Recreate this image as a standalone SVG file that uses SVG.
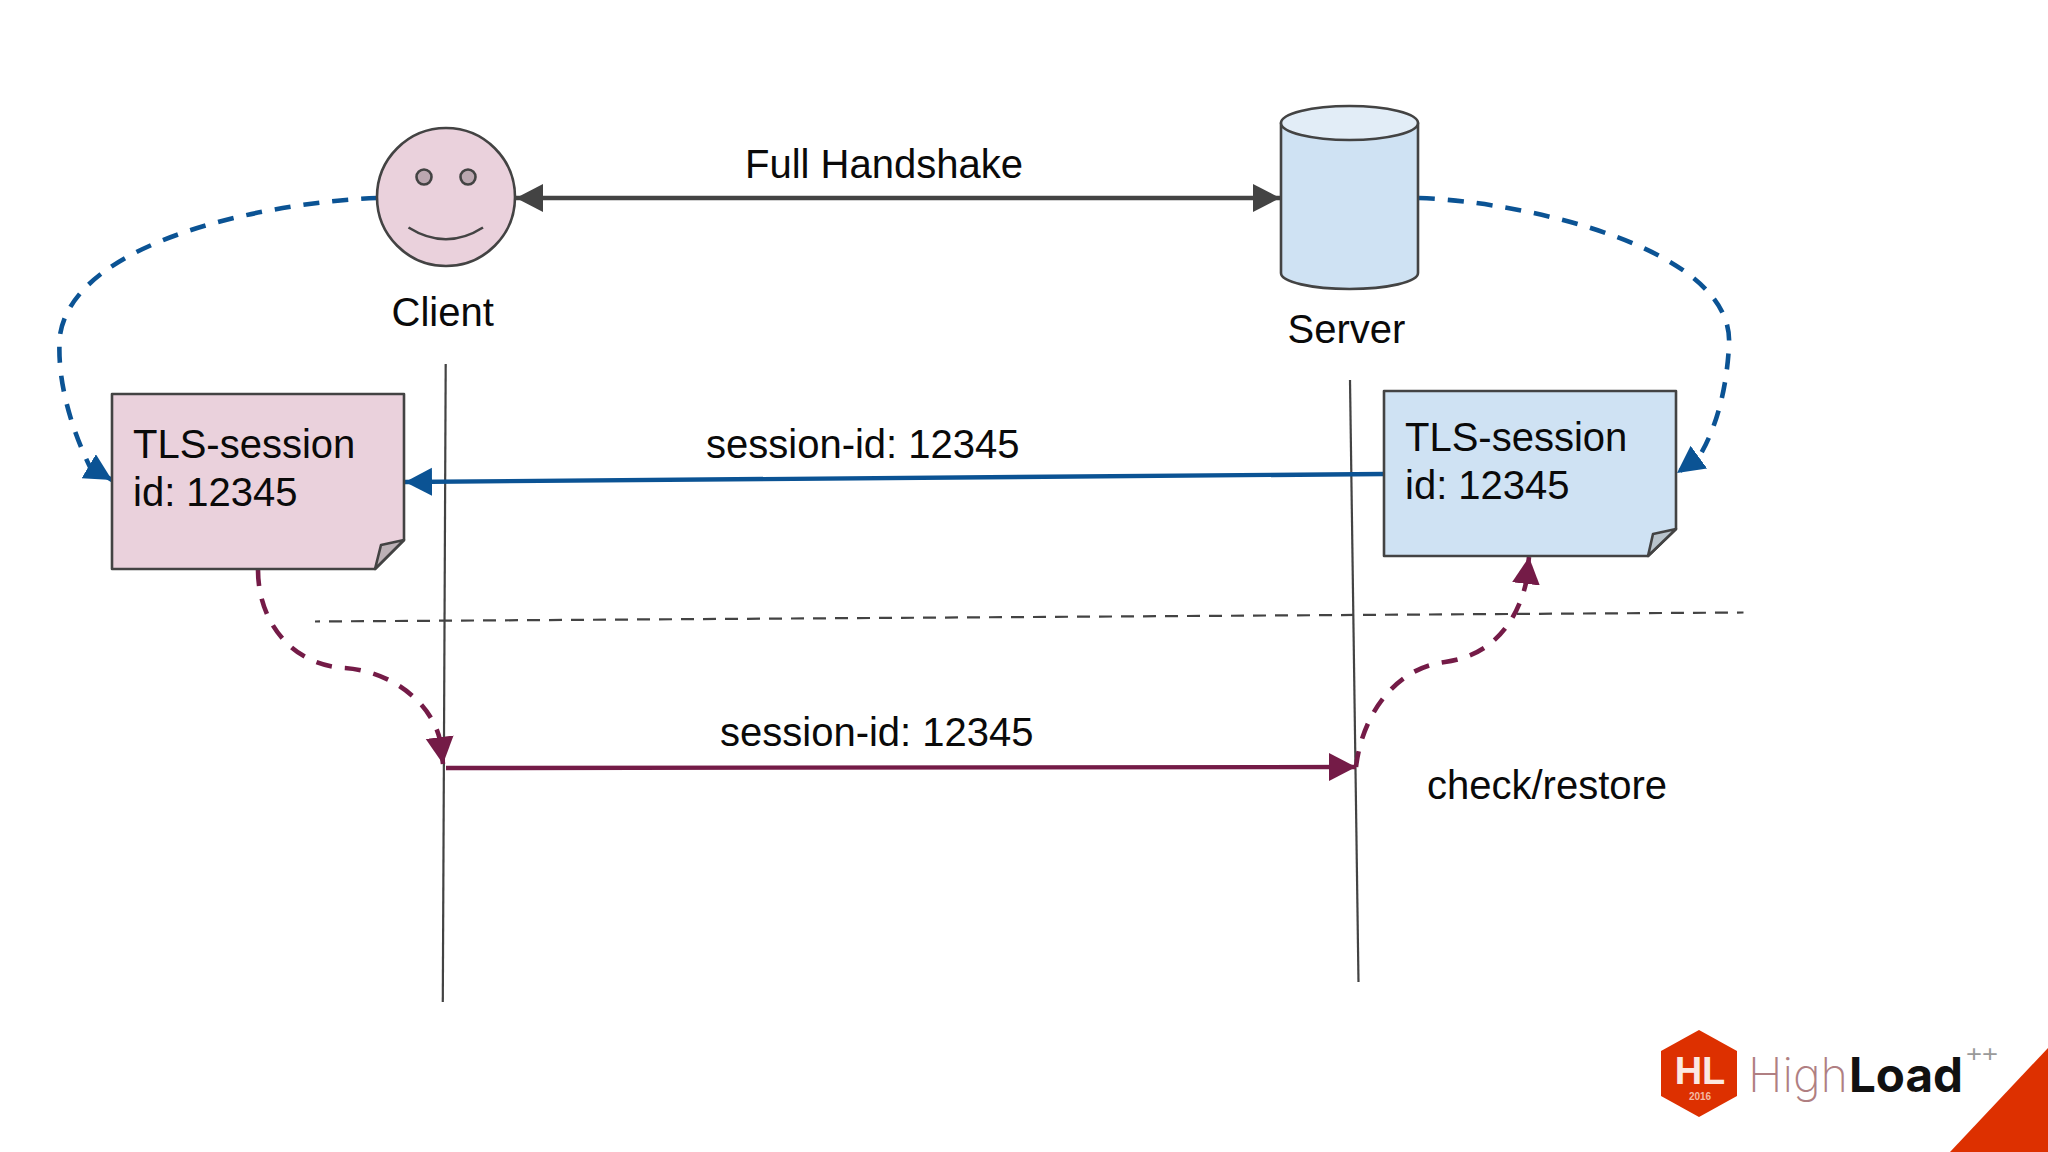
<svg xmlns="http://www.w3.org/2000/svg" width="2048" height="1152" viewBox="0 0 2048 1152">
<style>
text{font-family:"Liberation Sans",Arial,sans-serif;font-size:40px;fill:#0a0a0a}
.o{stroke:#434343;stroke-width:2.6;stroke-linejoin:round}
.ln{fill:none;stroke:#434343;stroke-width:2.2}
.bd{fill:none;stroke:#0b5394;stroke-width:4.6;stroke-dasharray:16 13;marker-end:url(#hb)}
.md{fill:none;stroke:#741b47;stroke-width:4.6;stroke-dasharray:16 13;marker-end:url(#hm)}
</style>
<defs>
<marker id="hb" markerUnits="userSpaceOnUse" markerWidth="30" markerHeight="32" refX="27" refY="14" orient="auto"><path d="M0 0L27 14L0 28Z" fill="#0b5394"/></marker>
<marker id="hm" markerUnits="userSpaceOnUse" markerWidth="30" markerHeight="32" refX="27" refY="14" orient="auto"><path d="M0 0L27 14L0 28Z" fill="#741b47"/></marker>
<marker id="hd" markerUnits="userSpaceOnUse" markerWidth="30" markerHeight="32" refX="27" refY="14" orient="auto-start-reverse"><path d="M0 0L27 14L0 28Z" fill="#434343"/></marker>
</defs>
<rect width="2048" height="1152" fill="#fff"/>
<g id="connectors">
<path class="ln" d="M445.700 364L442.800 1002"/>
<path class="ln" d="M1350 380L1358.500 982"/>
<path class="ln" stroke-dasharray="13 9" stroke-dashoffset="8" d="M315 621.500L1743.500 612.500"/>
<path d="M516 198H1280" fill="none" stroke="#434343" stroke-width="4.400" marker-start="url(#hd)" marker-end="url(#hd)"/>
<path d="M1384 474L405 482" fill="none" stroke="#0b5394" stroke-width="4.400" marker-end="url(#hb)"/>
<path d="M446 768L1356 767" fill="none" stroke="#741b47" stroke-width="4.400" marker-end="url(#hm)"/>
<path class="bd" d="M377 198C270 202 75 240 60 335C56 380 72 430 90 467L112 480"/>
<path class="bd" d="M1419 198C1530 202 1735 250 1729 345C1727 385 1718 425 1699 457L1677 473"/>
<path class="md" d="M258 570C258 620 290 665 345 668C395 672 432 705 440 740L443 764"/>
<path class="md" d="M1356 767C1362 715 1395 668 1445 662C1490 656 1516 625 1526 583L1529 557"/>
</g>
<g id="client">
<circle class="o" cx="446" cy="197" r="69" fill="#ead1dc"/>
<circle class="o" cx="424" cy="177" r="7.500" fill="#bba7b0"/>
<circle class="o" cx="468" cy="177" r="7.500" fill="#bba7b0"/>
<path class="o" fill="none" d="M408.500 227.500Q446 251 483 227.500"/>
<text x="391.500" y="326">Client</text>
</g>
<g id="server">
<path class="o" fill="#cfe2f3" d="M1281 123V273C1281 282 1312 289 1349.500 289C1387 289 1418 282 1418 273V123Z"/>
<ellipse class="o" cx="1349.500" cy="123" rx="68.500" ry="17" fill="#e2edf7"/>
<text x="1287.500" y="343">Server</text>
</g>
<g id="session-client">
<path class="o" fill="#ead1dc" d="M112 394H404V540L375 569H112Z"/>
<path class="o" fill="#bcb1b6" d="M404 540L381 545L375 569Z"/>
<text x="133" y="458">TLS-session</text>
<text x="133" y="506">id: 12345</text>
</g>
<g id="session-server">
<path class="o" fill="#cfe2f3" d="M1384 391H1676V529L1648 556H1384Z"/>
<path class="o" fill="#b9c4cc" d="M1676 529L1653 534L1648 556Z"/>
<text x="1405" y="451">TLS-session</text>
<text x="1405" y="499">id: 12345</text>
</g>
<g id="labels">
<text x="745" y="178">Full Handshake</text>
<text x="706" y="458">session-id: 12345</text>
<text x="720" y="746">session-id: 12345</text>
<text x="1427" y="799">check/restore</text>
</g>
<g id="logo">
<path d="M1699 1030L1737 1051V1096L1699 1117L1661 1096V1051Z" fill="#dd3000"/>
<text x="1700" y="1084" text-anchor="middle" style="font-size:38px;font-weight:700;fill:#fbe9e2">HL</text>
<text x="1700" y="1100" text-anchor="middle" style="font-size:10px;font-weight:700;fill:#f4b9a3">2016</text>
<text x="1748" y="1092" textLength="100" lengthAdjust="spacingAndGlyphs" style="font-family:Inter,sans-serif;font-size:48px;font-weight:200;fill:#b07f82">High</text>
<text x="1849" y="1092" textLength="114" lengthAdjust="spacingAndGlyphs" style="font-family:Inter,sans-serif;font-size:48px;font-weight:700;fill:#111">Load</text>
<text x="1966" y="1062" textLength="32" lengthAdjust="spacingAndGlyphs" style="font-size:24px;fill:#9a9a9a">++</text>
<path d="M1950 1152L2048 1048V1152Z" fill="#dd3000"/>
</g>
</svg>
